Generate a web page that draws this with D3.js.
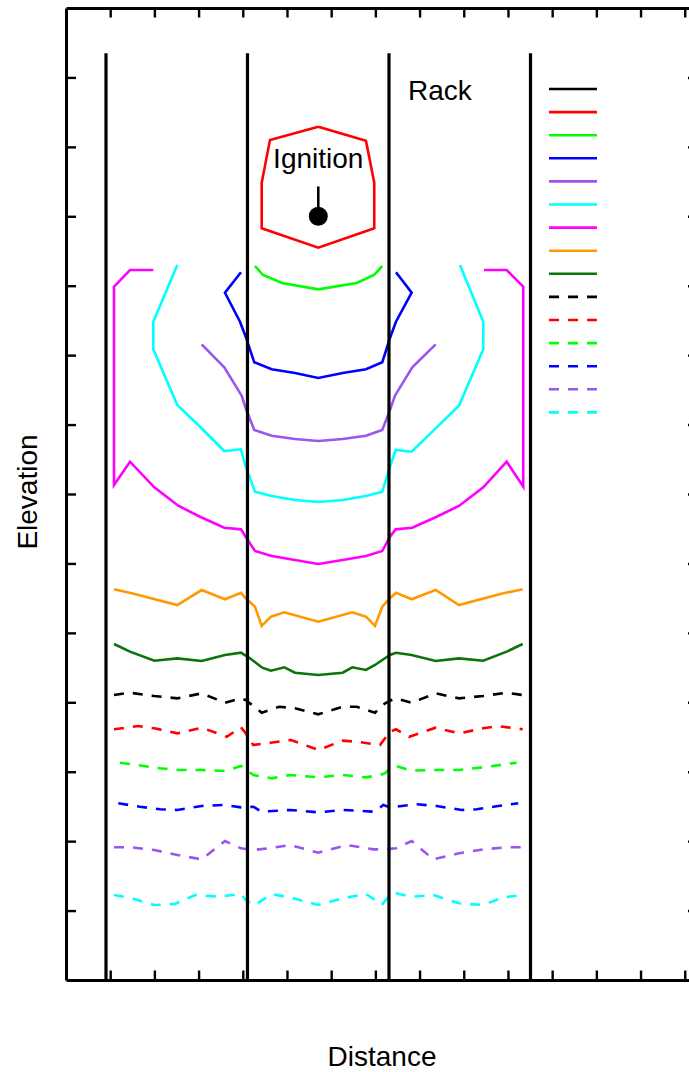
<!DOCTYPE html>
<html>
<head>
<meta charset="utf-8">
<script src="https://cdn.jsdelivr.net/npm/d3@7/dist/d3.min.js"></script>
<style>
  html, body { margin: 0; padding: 0; background: #fff; }
  svg { display: block; }
  text { font-family: "Liberation Sans", Arial, Helvetica, sans-serif; fill: #000; }
</style>
</head>
<body>
<script>
// Flame-front contours through a rack storage array (distance vs elevation).
// Each contour is a list of [distance, elevation] points in tick units.

const rackPositions = [0.905, 4.106, 7.308, 10.51];
const rackTop = 13.35;
const ignitionPoint = [5.708, 11.0];
const ignitionStemTop = 11.43;
const xTicks = [1, 2, 3, 4, 5, 6, 7, 8, 9, 10, 11, 12, 13, 14];
const yTicks = [1, 2, 3, 4, 5, 6, 7, 8, 9, 10, 11, 12, 13];

const front01 = [[5.708,12.290],[6.787,12.088],[6.975,11.483],[6.975,10.827],[5.708,10.547],
  [4.428,10.827],[4.428,11.483],[4.615,12.098],[5.708,12.290]];
const front02 = [[4.276,10.284],[4.457,10.154],[4.887,10.039],[5.708,9.948],[6.577,10.039],
  [6.968,10.154],[7.156,10.284]];
const front03 = [[3.959,10.193],[3.597,9.899],[3.937,9.482],[4.066,9.266],[4.260,8.897],
  [4.654,8.796],[5.181,8.743],[5.708,8.671],[6.260,8.743],[6.787,8.796],[7.156,8.897],
  [7.330,9.247],[7.466,9.482],[7.821,9.899],[7.466,10.193]];
const front04 = [[3.070,9.156],[3.581,8.825],[3.975,8.416],[4.066,8.234],[4.260,7.922],
  [4.654,7.840],[5.181,7.792],[5.708,7.763],[6.260,7.792],[6.787,7.840],[7.156,7.922],
  [7.330,8.210],[7.443,8.416],[7.835,8.825],[8.364,9.156]];
const front05 = [[2.518,10.298],[1.975,9.482],[1.975,9.084],[2.518,8.282],[3.032,7.969],
  [3.581,7.619],[3.959,7.644],[4.066,7.393],[4.276,7.033],[4.654,6.971],[5.181,6.913],
  [5.708,6.885],[6.260,6.913],[6.787,6.971],[7.156,7.033],[7.330,7.393],[7.459,7.634],
  [7.821,7.609],[8.364,7.946],[8.891,8.272],[9.441,9.084],[9.441,9.482],[8.914,10.298]];
const front06 = [[1.975,10.226],[1.448,10.226],[1.086,9.986],[1.086,7.129],[1.448,7.465],
  [1.998,7.096],[2.541,6.831],[3.032,6.673],[3.581,6.515],[3.959,6.491],[4.066,6.385],
  [4.276,6.179],[4.654,6.107],[5.181,6.049],[5.708,5.992],[6.260,6.049],[6.787,6.107],
  [7.156,6.179],[7.330,6.385],[7.459,6.491],[7.835,6.515],[8.387,6.673],[8.898,6.831],
  [9.441,7.096],[9.971,7.465],[10.346,7.105],[10.346,9.986],[9.971,10.226],[9.457,10.226]];
const front07 = [[1.086,5.627],[1.486,5.570],[2.518,5.401],[3.070,5.617],[3.597,5.483],
  [3.959,5.578],[4.066,5.498],[4.276,5.377],[4.428,5.099],[4.638,5.233],[4.939,5.296],
  [5.708,5.161],[6.477,5.296],[6.787,5.233],[6.991,5.099],[7.156,5.377],[7.330,5.498],
  [7.466,5.578],[7.821,5.483],[8.364,5.617],[8.891,5.401],[9.894,5.570],[10.333,5.627]];
const front08 = [[1.086,4.839],[1.448,4.729],[1.998,4.599],[2.518,4.633],[3.070,4.595],
  [3.597,4.681],[3.959,4.714],[4.163,4.633],[4.441,4.498],[4.638,4.455],[4.939,4.504],
  [5.181,4.426],[5.708,4.393],[6.260,4.426],[6.477,4.504],[6.787,4.465],[6.991,4.537],
  [7.156,4.609],[7.330,4.681],[7.466,4.714],[7.821,4.681],[8.364,4.595],[8.891,4.633],
  [9.441,4.599],[9.971,4.729],[10.333,4.839]];
const front09 = [[1.086,4.105],[1.448,4.138],[1.998,4.090],[2.518,4.057],[3.070,4.129],
  [3.597,3.994],[3.959,4.057],[4.066,4.033],[4.428,3.850],[4.826,3.936],[5.181,3.913],
  [5.708,3.827],[6.260,3.936],[6.577,3.936],[6.991,3.850],[7.156,3.961],[7.330,4.023],
  [7.466,4.057],[7.821,3.994],[8.364,4.129],[8.891,4.057],[9.441,4.090],[9.971,4.138],
  [10.333,4.105]];
const front10 = [[1.086,3.611],[1.636,3.658],[1.998,3.625],[2.518,3.553],[3.070,3.634],
  [3.636,3.504],[3.959,3.640],[4.066,3.553],[4.238,3.385],[4.638,3.418],[5.090,3.457],
  [5.708,3.313],[6.260,3.447],[6.577,3.432],[7.104,3.385],[7.330,3.576],[7.466,3.611],
  [7.767,3.504],[8.364,3.634],[8.891,3.553],[9.441,3.625],[9.767,3.658],[10.333,3.611]];
const front11 = [[1.222,3.130],[2.127,3.049],[2.518,3.025],[3.070,3.025],[3.597,3.010],
  [3.959,3.082],[4.066,3.035],[4.238,2.953],[4.654,2.905],[5.068,2.953],[5.708,2.919],
  [6.260,2.953],[6.787,2.919],[7.104,2.953],[7.217,2.977],[7.330,3.049],[7.466,3.082],
  [7.821,3.015],[8.364,3.025],[8.891,3.025],[9.441,3.064],[10.197,3.130]];
const front12 = [[1.183,2.545],[1.674,2.496],[2.127,2.459],[2.518,2.449],[3.070,2.506],
  [3.559,2.521],[3.959,2.487],[4.238,2.496],[4.428,2.424],[5.068,2.449],[5.708,2.415],
  [6.260,2.449],[6.991,2.424],[7.179,2.521],[7.330,2.487],[7.934,2.531],[8.387,2.506],
  [8.952,2.449],[9.292,2.459],[9.781,2.506],[10.233,2.545]];
const front13 = [[1.086,1.911],[1.486,1.911],[1.998,1.872],[2.518,1.800],[3.070,1.738],
  [3.597,2.002],[3.959,1.897],[4.238,1.872],[4.577,1.897],[5.068,1.944],[5.708,1.834],
  [6.351,1.944],[6.952,1.882],[7.217,1.882],[7.466,1.897],[7.821,2.002],[8.310,1.738],
  [8.891,1.825],[9.441,1.882],[9.971,1.911],[10.333,1.911]];
const front14 = [[1.086,1.224],[1.486,1.177],[1.998,1.080],[2.466,1.095],[2.919,1.224],
  [3.484,1.200],[3.959,1.239],[4.066,1.152],[4.276,1.080],[4.654,1.239],[5.143,1.177],
  [5.708,1.080],[6.260,1.177],[6.787,1.239],[6.991,1.152],[7.143,1.080],[7.330,1.224],
  [7.466,1.249],[7.821,1.200],[8.310,1.224],[8.891,1.105],[9.441,1.080],[9.894,1.191],
  [10.333,1.224]];

// Legend order (first entry is the rack outline colour).
const legendColors = ["#000000", "#ff0000", "#00ff00", "#0000ff", "#9a55f0", "#00ffff",
  "#ff00ff", "#ff9900", "#0a730a", "#000000", "#ff0000", "#00ff00", "#0000ff", "#9a55f0", "#00ffff"];
const legendDashed = [false, false, false, false, false, false, false, false, false,
  true, true, true, true, true, true];

const fronts = [front01, front02, front03, front04, front05, front06, front07,
  front08, front09, front10, front11, front12, front13, front14];

const W = 689, H = 1072;
const plotL = 66, plotR = 698, plotT = 8, plotB = 980;

const x = d3.scaleLinear().domain([0, 14.3]).range([plotL, plotR]);
const y = d3.scaleLinear().domain([0, 14]).range([plotB, plotT]);

const svg = d3.select("body").append("svg").attr("width", W).attr("height", H);

const line = d3.line().x(d => x(d[0])).y(d => y(d[1]));
const DASH = "10,9";

// contours
fronts.forEach((pts, i) => {
  const k = i + 1;
  svg.append("path")
    .attr("d", line(pts))
    .attr("fill", "none")
    .attr("stroke", legendColors[k])
    .attr("stroke-width", 2.6)
    .attr("stroke-linejoin", "miter")
    .attr("stroke-dasharray", legendDashed[k] ? DASH : null);
});

// rack uprights
svg.selectAll("line.rack").data(rackPositions).join("line")
  .attr("class", "rack")
  .attr("x1", d => x(d)).attr("x2", d => x(d))
  .attr("y1", y(rackTop)).attr("y2", y(0))
  .attr("stroke", "#000").attr("stroke-width", 3.2);

// ignition source
svg.append("line")
  .attr("x1", x(ignitionPoint[0])).attr("x2", x(ignitionPoint[0]))
  .attr("y1", y(ignitionStemTop)).attr("y2", y(ignitionPoint[1]))
  .attr("stroke", "#000").attr("stroke-width", 2.6);
svg.append("circle")
  .attr("cx", x(ignitionPoint[0])).attr("cy", y(ignitionPoint[1]))
  .attr("r", 9.5).attr("fill", "#000");

svg.append("text")
  .attr("x", x(ignitionPoint[0])).attr("y", y(11.69))
  .attr("text-anchor", "middle").attr("font-size", 28)
  .text("Ignition");
svg.append("text")
  .attr("x", x(7.74)).attr("y", y(12.67))
  .attr("font-size", 28)
  .text("Rack");

// frame and inward ticks on all four sides
const axisG = svg.append("g");
axisG.append("g").attr("transform", `translate(0,${plotB})`)
  .call(d3.axisBottom(x).tickValues(xTicks).tickSizeInner(-9.5).tickSizeOuter(0).tickFormat(""));
axisG.append("g").attr("transform", `translate(0,${plotT})`)
  .call(d3.axisTop(x).tickValues(xTicks).tickSizeInner(-9.5).tickSizeOuter(0).tickFormat(""));
axisG.append("g").attr("transform", `translate(${plotL},0)`)
  .call(d3.axisLeft(y).tickValues(yTicks).tickSizeInner(-10).tickSizeOuter(0).tickFormat(""));
axisG.append("g").attr("transform", `translate(${plotR},0)`)
  .call(d3.axisRight(y).tickValues(yTicks).tickSizeInner(-10).tickSizeOuter(0).tickFormat(""));
axisG.selectAll(".domain").attr("stroke", "#000").attr("stroke-width", 3);
axisG.selectAll(".tick line").attr("stroke", "#000").attr("stroke-width", 2.4);

// axis titles
svg.append("text")
  .attr("x", 382).attr("y", 1066)
  .attr("text-anchor", "middle").attr("font-size", 28)
  .text("Distance");
svg.append("text")
  .attr("transform", "translate(37,492) rotate(-90)")
  .attr("text-anchor", "middle").attr("font-size", 28)
  .text("Elevation");

// legend
const legend = svg.append("g");
legendColors.forEach((c, i) => {
  legend.append("line")
    .attr("x1", 549).attr("x2", 597)
    .attr("y1", 89 + i * 23.1).attr("y2", 89 + i * 23.1)
    .attr("stroke", c).attr("stroke-width", 2.6)
    .attr("stroke-dasharray", legendDashed[i] ? DASH : null);
});
</script>
</body>
</html>
